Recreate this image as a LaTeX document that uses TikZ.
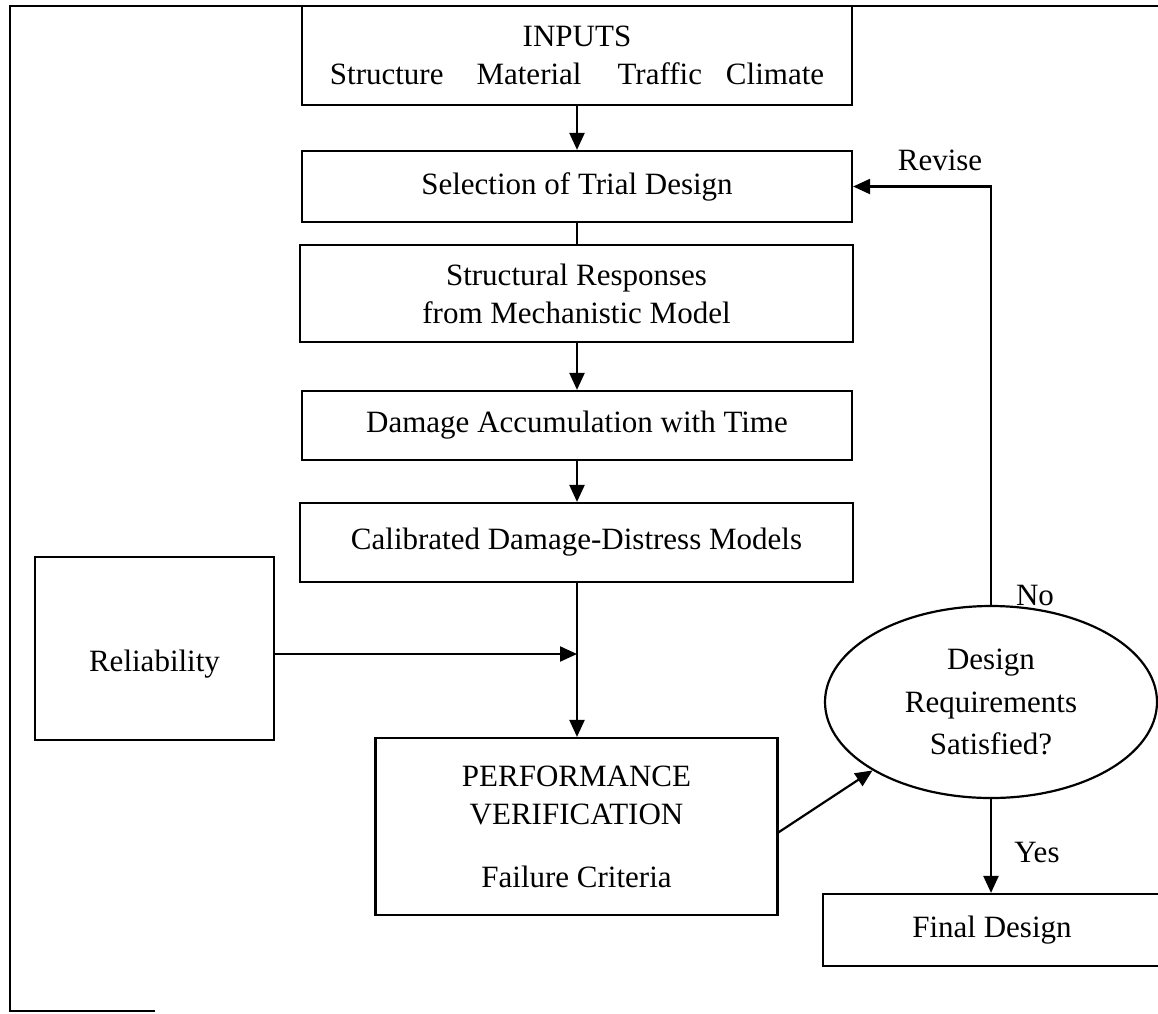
\documentclass[tikz,border=0pt]{standalone}
\usepackage{fontspec}
\setmainfont{Liberation Serif}
\usetikzlibrary{arrows.meta,shapes.geometric}
\begin{document}
\begin{tikzpicture}[x=1pt,y=1pt,
  every node/.style={font=\fontsize{31}{38}\selectfont},
  box/.style={draw, line width=2.2pt, rectangle, inner sep=0pt, align=center},
  oval/.style={draw, line width=2.2pt, ellipse, inner sep=0pt, align=center,
    font=\fontsize{31}{42.5}\selectfont},
  lbl/.style={inner sep=0pt},
  link/.style={line width=2.2pt},
  arr/.style={link, -{Triangle[length=17pt,width=15pt]}}]
\clip (0,0) rectangle (1158,-1013);

% outer frame (open on the right and partly at the bottom)
\draw[link] (155,-1011) -- (10,-1011) -- (10,-6) -- (1162,-6);

% main design chain
\node[box, minimum width=550pt, minimum height=99pt] (inputs) at (577,-55.5)
  {INPUTS\\Structure\hspace{33pt}Material\hspace{36pt}Traffic\hspace{24pt}Climate};
\node[box, minimum width=550pt, minimum height=71pt] (select) at (577,-186.5)
  {Selection of Trial Design};
\node[box, minimum width=553pt, minimum height=97pt] (struct) at (576.5,-293.5)
  {Structural Responses\\from Mechanistic Model};
\node[box, minimum width=550pt, minimum height=69pt] (damage) at (577,-425.5)
  {Damage Accumulation with Time};
\node[box, minimum width=553pt, minimum height=79pt] (calib) at (576.5,-542.5)
  {Calibrated Damage-Distress Models};
\node[box, minimum width=239pt, minimum height=183pt] (reliab) at (154.5,-648.5) {};
\node[lbl] (reliabtxt) at (154.5,-664) {Reliability};
\node[box, minimum width=402pt, minimum height=177pt] (perf) at (576.5,-826.5)
  {PERFORMANCE\\VERIFICATION\\[25pt]Failure Criteria};
\node[oval, minimum width=332pt, minimum height=192pt] (dec) at (991,-702)
  {Design\\Requirements\\Satisfied?};
\node[box, minimum width=338pt, minimum height=72pt] (final) at (992,-930)
  {Final Design};

% connectors (all chain links drawn strictly vertical)
\draw[arr] (inputs.south) -- (inputs.south |- select.north);
\draw[link] (select.south) -- (select.south |- struct.north);
\draw[arr] (select.south |- struct.south) -- (select.south |- damage.north);
\draw[arr] (damage.south) -- (damage.south |- calib.north);
\coordinate (join) at (577,-654);
\draw[arr] (join |- calib.south) -- (join |- perf.north);
\draw[arr] (reliab.east |- join) -- (join);
\coordinate (pout) at (777.5,-833);
\draw[arr] (pout) -- (dec.210);
\draw[arr] (dec.north) |- (select.east);
\draw[arr] (dec.south) -- (dec.south |- final.north);

% branch labels
\node[lbl] (revise) at (940,-160) {Revise};
\node[lbl] (no) at (1035,-595) {No};
\node[lbl] (yes) at (1037,-852) {Yes};
\end{tikzpicture}
\end{document}
